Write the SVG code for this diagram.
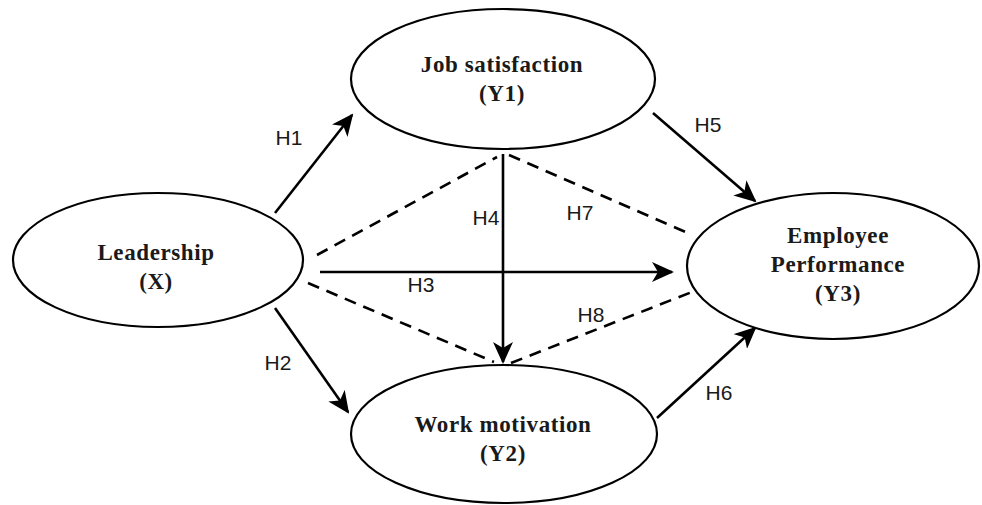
<svg xmlns="http://www.w3.org/2000/svg" width="982" height="505" viewBox="0 0 982 505">
<defs>
<style>
.node ellipse{fill:#fff;stroke:#000;stroke-width:2.2}
.nt{font-family:"Liberation Serif","Times New Roman",serif;font-weight:bold;font-size:23px;letter-spacing:0.6px;text-anchor:middle;fill:#1a1a1a}
.ln{stroke:#000;stroke-width:2.6;fill:none}
.arr{marker-end:url(#ah)}
.dash{stroke-dasharray:12 8}
.lb{font-family:"Liberation Sans",Arial,sans-serif;font-size:21px;text-anchor:middle;fill:#1a1a1a}
</style>
<marker id="ah" markerUnits="userSpaceOnUse" markerWidth="22" markerHeight="20" viewBox="0 0 22 20" refX="20" refY="10" orient="auto">
<path d="M0,0 L22,10 L0,20 L6,10 z" fill="#000"/>
</marker>
</defs>
<rect width="982" height="505" fill="#fff"/>
<g id="connectors">
<line class="ln arr" x1="275" y1="213" x2="352" y2="115"/>
<line class="ln arr" x1="275" y1="308" x2="348" y2="412"/>
<line class="ln arr" x1="320" y1="272" x2="672" y2="272"/>
<line class="ln arr" x1="503" y1="154" x2="503" y2="362"/>
<line class="ln arr" x1="653" y1="113" x2="755" y2="201"/>
<line class="ln arr" x1="657" y1="418" x2="755" y2="328"/>
<line class="ln dash" x1="317" y1="255" x2="497" y2="157"/>
<line class="ln dash" x1="509" y1="155" x2="690" y2="234"/>
<line class="ln dash" x1="308" y1="283" x2="494" y2="362"/>
<line class="ln dash" x1="511" y1="363" x2="697" y2="290"/>
<text class="lb" x="289" y="145">H1</text>
<text class="lb" x="278" y="370">H2</text>
<text class="lb" x="421" y="292">H3</text>
<text class="lb" x="486" y="225">H4</text>
<text class="lb" x="708" y="132">H5</text>
<text class="lb" x="719" y="400">H6</text>
<text class="lb" x="580" y="220">H7</text>
<text class="lb" x="591" y="322">H8</text>
</g>
<g id="leadership" class="node">
<ellipse cx="158" cy="260" rx="145" ry="67"/>
<text class="nt" x="156" y="260">Leadership</text>
<text class="nt" x="156" y="289">(X)</text>
</g>
<g id="job-satisfaction" class="node">
<ellipse cx="503" cy="79" rx="152" ry="70"/>
<text class="nt" x="502" y="72">Job satisfaction</text>
<text class="nt" x="502" y="101">(Y1)</text>
</g>
<g id="work-motivation" class="node">
<ellipse cx="504" cy="434" rx="153" ry="69"/>
<text class="nt" x="503" y="432">Work motivation</text>
<text class="nt" x="503" y="461">(Y2)</text>
</g>
<g id="employee-performance" class="node">
<ellipse cx="833" cy="266" rx="146" ry="73"/>
<text class="nt" x="838" y="243">Employee</text>
<text class="nt" x="838" y="272">Performance</text>
<text class="nt" x="838" y="301">(Y3)</text>
</g>
</svg>
